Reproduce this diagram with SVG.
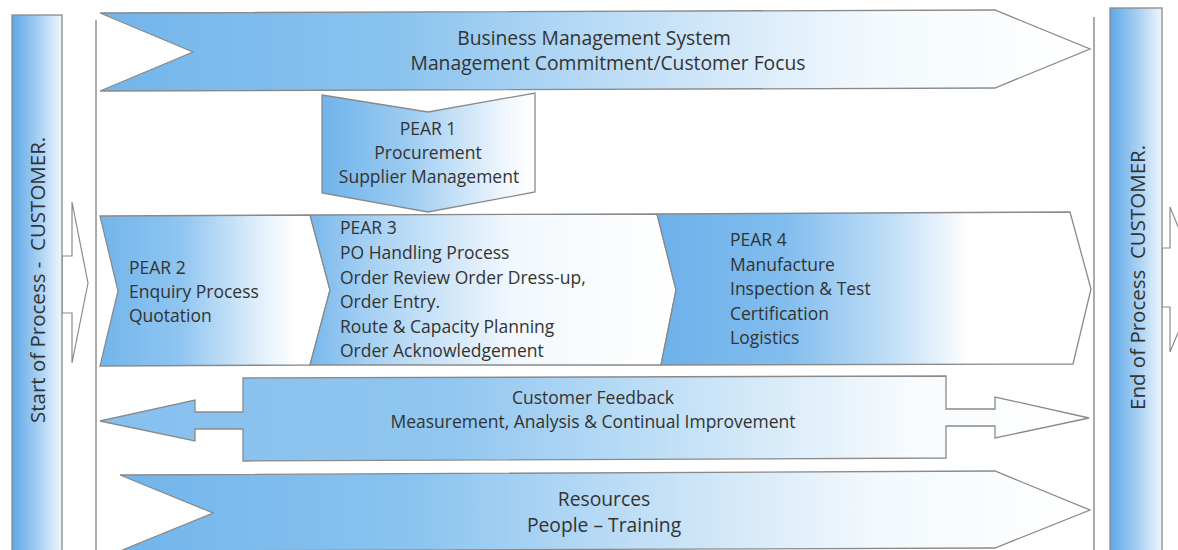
<svg xmlns="http://www.w3.org/2000/svg" width="1178" height="550" viewBox="0 0 1178 550">
<defs>
<linearGradient id="gBar" x1="0" y1="0" x2="1" y2="0">
<stop offset="0" stop-color="#5ea8e7"/><stop offset="0.55" stop-color="#a9d1f3"/><stop offset="1" stop-color="#eef6fd"/>
</linearGradient>
<linearGradient id="gBanner" x1="0" y1="0" x2="1" y2="0">
<stop offset="0" stop-color="#72b5eb"/><stop offset="0.3" stop-color="#8ac3ef"/><stop offset="0.5" stop-color="#b8daf5"/><stop offset="0.78" stop-color="#f3f9fd"/><stop offset="1" stop-color="#ffffff"/>
</linearGradient>
<linearGradient id="gP1" x1="0" y1="0" x2="1" y2="0">
<stop offset="0" stop-color="#70b4eb"/><stop offset="0.4" stop-color="#9ccbf1"/><stop offset="0.85" stop-color="#eef6fd"/><stop offset="1" stop-color="#ffffff"/>
</linearGradient>
<linearGradient id="gP2" x1="0" y1="0" x2="1" y2="0">
<stop offset="0" stop-color="#72b5eb"/><stop offset="0.35" stop-color="#8fc5f0"/><stop offset="0.7" stop-color="#e2f0fb"/><stop offset="0.85" stop-color="#ffffff"/>
</linearGradient>
<linearGradient id="gP3" x1="0" y1="0" x2="1" y2="0">
<stop offset="0" stop-color="#78b8ec"/><stop offset="0.15" stop-color="#a3cff3"/><stop offset="0.55" stop-color="#f2f8fd"/><stop offset="1" stop-color="#ffffff"/>
</linearGradient>
<linearGradient id="gP4" x1="0" y1="0" x2="1" y2="0">
<stop offset="0" stop-color="#6cb1ea"/><stop offset="0.3" stop-color="#82bdee"/><stop offset="0.55" stop-color="#c3e0f7"/><stop offset="0.72" stop-color="#ffffff"/>
</linearGradient>
<linearGradient id="gFb" x1="0" y1="0" x2="1" y2="0">
<stop offset="0" stop-color="#86c0ef"/><stop offset="0.35" stop-color="#90c6f0"/><stop offset="0.6" stop-color="#c6e2f7"/><stop offset="0.82" stop-color="#f7fbfe"/><stop offset="1" stop-color="#ffffff"/>
</linearGradient>
<style>
.shape{stroke:#8a8a8a;stroke-width:1.3;stroke-linejoin:miter}
.frame{stroke:#8f8f8f;stroke-width:1.5;fill:none}
.arrow{fill:#ffffff;stroke:#8a8a8a;stroke-width:1.2}
.t{font-family:"Open Sans","Noto Sans","Liberation Sans",sans-serif;fill:#333333;font-size:17.5px}
.big{font-size:19.3px}
.side{font-size:20.5px;white-space:pre}
.mid{text-anchor:middle}
</style>
</defs>

<g id="connectors">
<line class="frame" x1="96" y1="20" x2="96" y2="550"/>
<line class="frame" x1="1094" y1="17" x2="1094" y2="550"/>
<polygon class="arrow" points="62,256 72,256 72,202 88,283 72,363 72,313 62,313"/>
<polygon class="arrow" points="1162,248 1170,248 1170,207 1200,280 1170,352 1170,307 1162,307"/>
</g>

<g id="start-customer">
<rect class="shape" x="12" y="15" width="50" height="545" fill="url(#gBar)"/>
<text class="t side" transform="translate(45,423) rotate(-90)">Start of Process -  CUSTOMER.</text>
</g>

<g id="end-customer">
<rect class="shape" x="1110" y="8" width="52" height="552" fill="url(#gBar)"/>
<text class="t side" transform="translate(1145,410) rotate(-90)">End of Process  CUSTOMER.</text>
</g>

<g id="business-management">
<polygon class="shape" points="100,13 995,10 1090,49 995,88 100,91 193,52" fill="url(#gBanner)"/>
<text class="t big mid" x="594" y="45">Business Management System</text>
<text class="t big mid" x="608" y="70">Management Commitment/Customer Focus</text>
</g>

<g id="pear1">
<polygon class="shape" points="322,95 428,112 535,93 535,192 428,212 322,193" fill="url(#gP1)"/>
<text class="t mid" x="428" y="135">PEAR 1</text>
<text class="t mid" x="428" y="159">Procurement</text>
<text class="t mid" x="429" y="183">Supplier Management</text>
</g>

<g id="pear2">
<polygon class="shape" points="100,216 310,215 330,290 310,365 100,366 118,291" fill="url(#gP2)"/>
<text class="t" x="129" y="274">PEAR 2</text>
<text class="t" x="129" y="298">Enquiry Process</text>
<text class="t" x="129" y="322">Quotation</text>
</g>

<g id="pear3">
<polygon class="shape" points="310,215 657,214 676,290 661,365 310,365 330,290" fill="url(#gP3)"/>
<text class="t" x="340" y="234">PEAR 3</text>
<text class="t" x="340" y="259">PO Handling Process</text>
<text class="t" x="340" y="284">Order Review Order Dress-up,</text>
<text class="t" x="340" y="308">Order Entry.</text>
<text class="t" x="340" y="333">Route &amp; Capacity Planning</text>
<text class="t" x="340" y="357">Order Acknowledgement</text>
</g>

<g id="pear4">
<polygon class="shape" points="657,214 1070,212 1091,289 1073,364 661,365 676,290" fill="url(#gP4)"/>
<text class="t" x="730" y="246">PEAR 4</text>
<text class="t" x="730" y="271">Manufacture</text>
<text class="t" x="730" y="295">Inspection &amp; Test</text>
<text class="t" x="730" y="320">Certification</text>
<text class="t" x="730" y="344">Logistics</text>
</g>

<g id="customer-feedback">
<polygon class="shape" points="100,421 195,400 195,412 243,412 243,378 946,376 946,409 995,409 995,397 1089,418 995,438 995,426 946,426 946,458 243,461 243,429 195,429 195,441" fill="url(#gFb)"/>
<text class="t mid" x="593" y="404">Customer Feedback</text>
<text class="t mid" x="593" y="428">Measurement, Analysis &amp; Continual Improvement</text>
</g>

<g id="resources">
<polygon class="shape" points="120,475 995,471 1090,510 995,548 120,551 213,513" fill="url(#gBanner)"/>
<text class="t big mid" x="604" y="506">Resources</text>
<text class="t big mid" x="604" y="532">People – Training</text>
</g>
</svg>
